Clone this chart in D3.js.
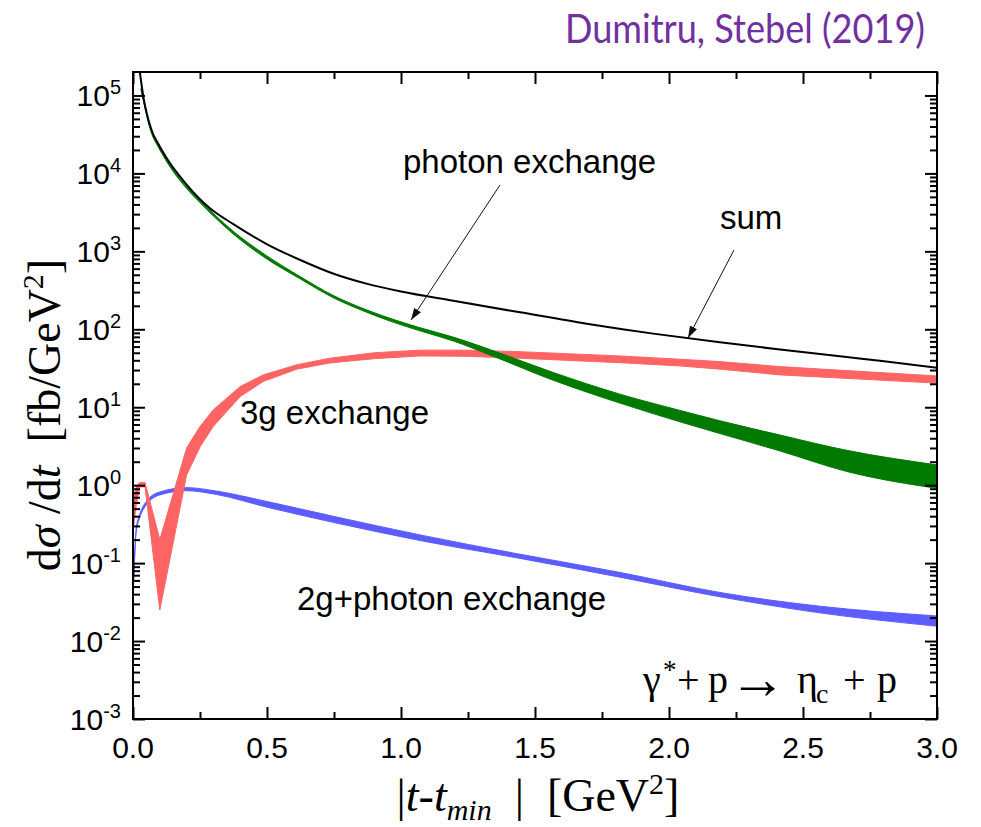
<!DOCTYPE html>
<html>
<head>
<meta charset="utf-8">
<script src="https://cdn.jsdelivr.net/npm/d3@7"></script>
<style>
  body { margin: 0; background: #fff; }
  text { fill: #000; white-space: pre; }
</style>
</head>
<body>
<div class="chart"></div>
<script>
// values, |t - tmin| in GeV^2, dsigma/dt in fb/GeV^2
let sumT = [0.02, 0.026, 0.033, 0.04, 0.05, 0.062, 0.075, 0.09, 0.124, 0.2, 0.286, 0.373, 0.497, 0.622, 0.746, 0.871, 1.0, 1.195, 1.444, 1.693, 1.941, 2.19, 2.414, 2.663, 2.787, 3.0];
let sumV = [3e5, 1.95e5, 1.3e5, 9.0e4, 6.2e4, 4.3e4, 3.2e4, 2.55e4, 1.6e4, 7.2e3, 3.6e3, 2.25e3, 1250, 780, 520, 385, 305, 232, 165, 118, 88, 68, 55, 44, 39.5, 32];

let photT  = [0.03, 0.04, 0.05, 0.062, 0.075, 0.09, 0.124, 0.2, 0.249, 0.373, 0.497, 0.622, 0.746, 0.871, 0.97, 1.071, 1.195, 1.344, 1.568, 1.817, 2.041, 2.19, 2.414, 2.663, 3.0];
let photLo = [1.17e5, 8.2e4, 5.65e4, 3.9e4, 2.9e4, 2.31e4, 1.44e4, 6.4e3, 4.25e3, 1.68e3, 808, 447, 255, 166, 123.6, 95.5, 70.8, 45.1, 22.2, 11.3, 6.5, 4.6, 2.75, 1.5, 0.91];
let photHi = [1.22e5, 8.6e4, 5.95e4, 4.1e4, 3.05e4, 2.43e4, 1.52e4, 6.8e3, 4.55e3, 1.82e3, 886, 479, 273, 177.8, 134.3, 104.7, 79.4, 53.1, 27.9, 14.7, 9.1, 6.7, 4.4, 2.8, 1.82];

let g3T  = [0, 0.012, 0.025, 0.045, 0.1, 0.2, 0.25, 0.3, 0.4, 0.486, 0.611, 0.735, 0.9, 1.071, 1.25, 1.444, 1.817, 2.041, 2.19, 2.414, 3.0];
let g3Lo = [0.26, 0.55, 0.95, 0.95, 0.025, 1.35, 3.1, 5.7, 13.7, 21.4, 30.8, 37, 42, 45.5, 45, 42.5, 37.3, 33.9, 30.8, 26, 20.4];
let g3Hi = [0.6, 0.95, 1.08, 1.08, 0.2, 3.0, 5.66, 9.3, 18.4, 26, 35, 42.6, 50, 54, 54, 51.6, 45.5, 41.3, 38.5, 33.2, 25.2];

let g2T  = [0, 0.012, 0.025, 0.05, 0.1, 0.2, 0.311, 0.497, 0.746, 1.071, 1.444, 1.817, 2.19, 2.563, 3.0];
let g2Lo = [0.03, 0.25, 0.38, 0.56, 0.75, 0.85, 0.76, 0.525, 0.334, 0.195, 0.115, 0.066, 0.037, 0.023, 0.0155];
let g2Hi = [0.035, 0.28, 0.42, 0.62, 0.82, 0.93, 0.84, 0.62, 0.40, 0.23, 0.13, 0.076, 0.042, 0.028, 0.021];

let xTicks = [0, 0.5, 1, 1.5, 2, 2.5, 3];
let xTickLabels = ["0.0", "0.5", "1.0", "1.5", "2.0", "2.5", "3.0"];
let xMinor = [0.25, 0.75, 1.25, 1.75, 2.25, 2.75];
let yExps = [-3, -2, -1, 0, 1, 2, 3, 4, 5];

const W = 981, H = 827;
const pL = 133, pR = 937, pT = 72, pB = 719;
const sans = "'Liberation Sans', Arial, sans-serif";
const serif = "'Liberation Serif', 'Times New Roman', serif";

let x = d3.scaleLinear().domain([0, 3]).range([pL, pR]);
let y = d3.scaleLog().domain([1e-3, 2e5]).range([pB, pT]);

let yMinor = [];
yExps.forEach(e => {
    for (let m = 2; m <= 9; m++) {
        let v = m * Math.pow(10, e);
        if (v < 2e5) yMinor.push(v);
    }
});

let svg = d3.select('.chart').append('svg')
    .attr('width', W)
    .attr('height', H);

let defs = svg.append('defs');
defs.append('clipPath').attr('id', 'plotclip')
    .append('rect')
    .attr('x', pL).attr('y', pT)
    .attr('width', pR - pL).attr('height', pB - pT);

defs.append('marker')
    .attr('id', 'arrow')
    .attr('viewBox', '0 0 12 8')
    .attr('refX', 12).attr('refY', 4)
    .attr('markerWidth', 12).attr('markerHeight', 8)
    .attr('markerUnits', 'userSpaceOnUse')
    .attr('orient', 'auto')
    .append('path')
    .attr('d', 'M0,0 L12,4 L0,8 Z')
    .attr('fill', '#111');

// title
svg.append('text')
    .attr('x', 925).attr('y', 43)
    .attr('text-anchor', 'end')
    .attr('font-family', "Lato, 'Open Sans', sans-serif")
    .attr('font-size', 40)
    .attr('textLength', 360)
    .attr('lengthAdjust', 'spacingAndGlyphs')
    .style('fill', '#7030a0')
    .text('Dumitru, Stebel (2019)');

let plot = svg.append('g').attr('clip-path', 'url(#plotclip)');

function zipBand(ts, lo, hi) {
    return ts.map((t, i) => ({t: t, lo: lo[i], hi: hi[i]}));
}

let band = d3.area()
    .x(d => x(d.t))
    .y0(d => y(d.lo))
    .y1(d => y(d.hi));

// 2g + photon exchange
plot.append('path')
    .datum(zipBand(g2T, g2Lo, g2Hi))
    .attr('d', band.curve(d3.curveMonotoneX))
    .attr('fill', '#5c5cff')
    .attr('stroke', '#5c5cff')
    .attr('stroke-width', 1);

// 3g exchange
plot.append('path')
    .datum(zipBand(g3T, g3Lo, g3Hi))
    .attr('d', band.curve(d3.curveLinear))
    .attr('fill', '#ff6464')
    .attr('stroke', '#ff6464')
    .attr('stroke-width', 1);

// photon exchange
plot.append('path')
    .datum(zipBand(photT, photLo, photHi))
    .attr('d', band.curve(d3.curveMonotoneX))
    .attr('fill', '#007a00')
    .attr('stroke', '#007a00')
    .attr('stroke-width', 1);

// sum
let line = d3.line()
    .x(d => x(d[0]))
    .y(d => y(d[1]))
    .curve(d3.curveMonotoneX);

plot.append('path')
    .datum(sumT.map((t, i) => [t, sumV[i]]))
    .attr('d', line)
    .attr('fill', 'none')
    .attr('stroke', '#000')
    .attr('stroke-width', 2);

// axes, ticks pointing inward on all four sides
function styleAxis(g) {
    g.select('.domain').remove();
    g.selectAll('.tick line').attr('stroke', '#000').attr('stroke-width', 2);
    g.selectAll('.tick text').remove();
}

svg.append('g').attr('transform', `translate(0,${pB})`)
    .call(d3.axisBottom(x).tickValues(xTicks).tickSize(-12)).call(styleAxis);
svg.append('g').attr('transform', `translate(0,${pB})`)
    .call(d3.axisBottom(x).tickValues(xMinor).tickSize(-7)).call(styleAxis);
svg.append('g').attr('transform', `translate(0,${pT})`)
    .call(d3.axisTop(x).tickValues(xTicks).tickSize(-12)).call(styleAxis);
svg.append('g').attr('transform', `translate(0,${pT})`)
    .call(d3.axisTop(x).tickValues(xMinor).tickSize(-7)).call(styleAxis);

let yMajor = yExps.map(e => Math.pow(10, e));
svg.append('g').attr('transform', `translate(${pL},0)`)
    .call(d3.axisLeft(y).tickValues(yMajor).tickSize(-12)).call(styleAxis);
svg.append('g').attr('transform', `translate(${pL},0)`)
    .call(d3.axisLeft(y).tickValues(yMinor).tickSize(-7)).call(styleAxis);
svg.append('g').attr('transform', `translate(${pR},0)`)
    .call(d3.axisRight(y).tickValues(yMajor).tickSize(-12)).call(styleAxis);
svg.append('g').attr('transform', `translate(${pR},0)`)
    .call(d3.axisRight(y).tickValues(yMinor).tickSize(-7)).call(styleAxis);

svg.append('rect')
    .attr('x', pL).attr('y', pT)
    .attr('width', pR - pL).attr('height', pB - pT)
    .attr('fill', 'none')
    .attr('stroke', '#000')
    .attr('stroke-width', 2);

// tick labels
svg.selectAll('.xlab').data(xTicks).enter().append('text')
    .attr('x', d => x(d))
    .attr('y', 758)
    .attr('text-anchor', 'middle')
    .attr('font-family', sans)
    .attr('font-size', 30)
    .text((d, i) => xTickLabels[i]);

let ylab = svg.selectAll('.ylab').data(yExps).enter().append('text')
    .attr('x', 121)
    .attr('y', d => y(Math.pow(10, d)) + 11)
    .attr('text-anchor', 'end')
    .attr('font-family', sans)
    .attr('font-size', 30);
ylab.append('tspan').text('10');
ylab.append('tspan')
    .attr('dy', -12)
    .attr('font-size', 20)
    .text(d => String(d));

// axis titles
let yt = svg.append('text')
    .attr('transform', 'translate(60,415) rotate(-90)')
    .attr('text-anchor', 'middle')
    .attr('font-family', serif)
    .attr('font-size', 46);
yt.append('tspan').text('d');
yt.append('tspan').attr('font-style', 'italic').text('σ');
yt.append('tspan').text(' /d');
yt.append('tspan').attr('font-style', 'italic').text('t');
yt.append('tspan').text('  [fb/GeV');
yt.append('tspan').attr('dy', -17).attr('font-size', 30).text('2');
yt.append('tspan').attr('dy', 17).text(']');

let xt = svg.append('text')
    .attr('x', 538).attr('y', 811)
    .attr('text-anchor', 'middle')
    .attr('font-family', serif)
    .attr('font-size', 46);
xt.append('tspan').text('|');
xt.append('tspan').attr('font-style', 'italic').text('t');
xt.append('tspan').text('-');
xt.append('tspan').attr('font-style', 'italic').text('t');
xt.append('tspan').attr('font-style', 'italic').attr('font-size', 30).attr('dy', 9).text('min');
xt.append('tspan').attr('dy', -9).text('  |  [GeV');
xt.append('tspan').attr('dy', -17).attr('font-size', 30).text('2');
xt.append('tspan').attr('dy', 17).text(']');

// curve annotations
function note(tx, ty, str) {
    svg.append('text')
        .attr('x', tx).attr('y', ty)
        .attr('font-family', sans)
        .attr('font-size', 33)
        .text(str);
}
note(403, 173, 'photon exchange');
note(720, 229, 'sum');
note(240, 424, '3g exchange');
note(297, 610, '2g+photon exchange');

function arrow(x1, y1, x2, y2) {
    svg.append('line')
        .attr('x1', x1).attr('y1', y1)
        .attr('x2', x2).attr('y2', y2)
        .attr('stroke', '#111')
        .attr('stroke-width', 1)
        .attr('marker-end', 'url(#arrow)');
}
arrow(500, 185, 411, 320);
arrow(734, 250, 688, 338);

// reaction label, pieces placed one by one
let rx = svg.append('g')
    .attr('font-family', serif)
    .attr('font-size', 40);
function piece(px, py, str, size) {
    let t = rx.append('text').attr('x', px).attr('y', py).text(str);
    if (size) t.attr('font-size', size);
    return t;
}
piece(643, 693, 'γ');
piece(663, 679, '*', 27);
piece(677, 693, '+');
piece(708, 693, 'p');
piece(729, 698, '→', 57);
piece(797, 693, 'η');
piece(816, 703, 'c', 28);
piece(843, 693, '+');
piece(877, 693, 'p');
</script>
</body>
</html>
